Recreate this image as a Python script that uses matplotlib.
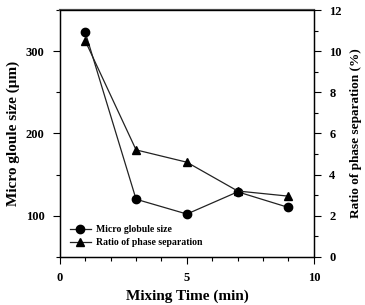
import matplotlib.pyplot as plt
from matplotlib.ticker import MultipleLocator

plt.rcParams['font.family'] = ['Liberation Serif', 'DejaVu Serif']
plt.rcParams['font.weight'] = 'bold'

# tiempo de mezcla (min)
mixing_time = [1, 3, 5, 7, 9]
# tamaño de microglóbulo (um)
globule_size = [323, 120, 102, 129, 110]
# relación de separación de fases (%)
phase_ratio = [10.5, 5.2, 4.6, 3.2, 2.95]

fig = plt.figure(figsize=(3.65, 3.05), dpi=100)
ax = fig.add_axes([0.164, 0.158, 0.696, 0.809])
ax2 = ax.twinx()

l1, = ax.plot(mixing_time, globule_size, color='#222222', lw=0.9,
              marker='o', ms=6, mfc='black', mec='black')
l2, = ax2.plot(mixing_time, phase_ratio, color='#222222', lw=0.9,
               marker='^', ms=6, mfc='black', mec='black')

ax.set_xlim(0, 10)
ax.set_ylim(50, 350)
ax2.set_ylim(0, 12)

ax.xaxis.set_major_locator(MultipleLocator(5))
ax.xaxis.set_minor_locator(MultipleLocator(1))
ax.yaxis.set_major_locator(MultipleLocator(100))
ax.yaxis.set_minor_locator(MultipleLocator(50))
ax2.yaxis.set_major_locator(MultipleLocator(2))
ax2.yaxis.set_minor_locator(MultipleLocator(1))

for a in (ax, ax2):
    a.tick_params(which='major', direction='out', length=5, width=0.8,
                  labelsize=9, pad=6)
    a.tick_params(which='minor', direction='out', length=3, width=0.8)
    for s in a.spines.values():
        s.set_linewidth(0.9)
ax.spines['top'].set_linewidth(1.6)
ax.spines['top'].set_color('#555555')

ax.set_xlabel('Mixing Time (min)', fontsize=11, fontweight='bold', labelpad=4)
ax.set_ylabel('Micro gloule size (\u03bcm)', fontsize=11, fontweight='bold', labelpad=4)
ax2.set_ylabel('Ratio of phase separation (%)', fontsize=9.5, fontweight='bold', labelpad=6)

ax.legend([l1, l2], ['Micro globule size', 'Ratio of phase separation'],
          loc='lower left', frameon=False, fontsize=7, handlelength=2.2,
          borderaxespad=0.6, handletextpad=0.5, labelspacing=0.4)

fig.savefig('out.png', dpi=100)
